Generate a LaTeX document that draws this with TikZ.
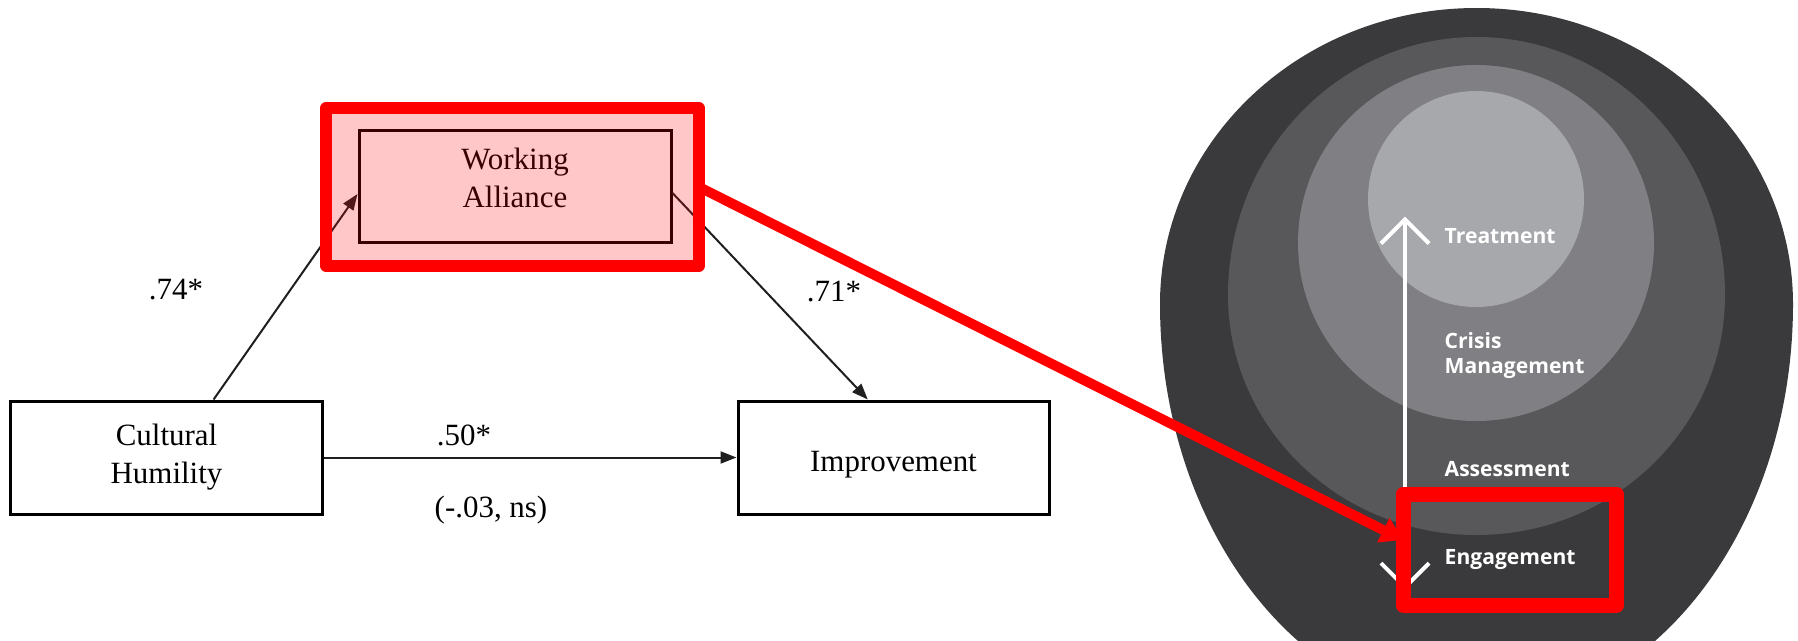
\documentclass[tikz,border=0pt]{standalone}
\usepackage{fontspec}
\setmainfont{Liberation Serif}
\newfontfamily\ringfont{Open Sans}
\usetikzlibrary{arrows.meta}
\usetikzlibrary{calc}

\definecolor{ring_a}{HTML}{3A3A3C}
\definecolor{ring_b}{HTML}{58585A}
\definecolor{ring_c}{HTML}{808084}
\definecolor{ring_d}{HTML}{A7A8AB}

\begin{document}
\begin{tikzpicture}[
        box_style/.style={rectangle,draw=black,line width=0.03cm,inner sep=0pt,minimum width=3.11cm,minimum height=1.13cm,align=center,font=\fontsize{8.8}{10.8}\selectfont},
        coef_style/.style={inner sep=0pt,font=\fontsize{8.8}{10.5}\selectfont},
        edge_style/.style={draw=black!88, line width=0.02cm, -{Triangle[length=0.16cm,width=0.12cm]}},
        mark_style/.style={rectangle,draw=red,line width=0.12cm,line join=round,inner sep=0pt,outer sep=0pt},
        ring_text_style/.style={text=white,inner sep=0pt,align=left,font=\ringfont\bfseries\fontsize{6}{7.1}\selectfont}]

        \path [use as bounding box, fill=white] (0,0) rectangle (17.98,6.40);

        \fill [ring_a] (11.60,3.36) arc [start angle=180, end angle=0, x radius=3.165, y radius=2.96]
                                    arc [start angle=0, end angle=-180, x radius=3.165, y radius=4.08] -- cycle;
        \fill [ring_b] (12.28,3.45) arc [start angle=180, end angle=0, x radius=2.485, y radius=2.58]
                                    arc [start angle=0, end angle=-180, x radius=2.485, y radius=2.40] -- cycle;
        \fill [ring_c] (14.76,3.97) circle (1.78);
        \fill [ring_d] (14.76,4.41) circle (1.08);

        \coordinate (path_top) at (14.05,4.233);
        \coordinate (path_bot) at (14.05,0.50);
        \draw [white, line width=0.04cm, {Straight Barb[length=0.24cm,width=0.48cm]}-{Straight Barb[length=0.24cm,width=0.48cm]}] (path_bot) -- (path_top);

        \node [ring_text_style, anchor=base west] (treat) at (14.44,3.967) {Treatment};
        \node [ring_text_style, anchor=base west] (crisis) at (14.44,2.67) {Crisis\\Management};
        \node [ring_text_style, anchor=base west] (assess) at (14.44,1.633) {Assessment};
        \node [ring_text_style, anchor=base west] (engage) at (14.44,0.76) {Engagement};

        \node [box_style] (ch) at (1.665,1.825) {Cultural\\Humility\rule[-0.07cm]{0pt}{0pt}};
        \node [box_style, text height=0.34cm, text depth=0.07cm] (imp) at (8.935,1.825) {Improvement};
        \node [box_style, minimum width=3.12cm, minimum height=1.12cm] (wa) at (5.15,4.54) {Working\\Alliance\rule[-0.16cm]{0pt}{0pt}};

        \draw [edge_style] ($(ch.north west)!0.65!(ch.north east)$) -- ([yshift=-0.08cm]wa.west);
        \draw [edge_style] ([yshift=-0.07cm]wa.east) -- ($(imp.north west)!0.418!(imp.north east)$);
        \draw [edge_style] (ch.east) -- (imp.west);

        \node [coef_style] (c74) at (1.76,3.50) {.74*};
        \node [coef_style] (c71) at (8.34,3.48) {.71*};
        \node [coef_style] (c50) at (4.64,2.05) {.50*};
        \node [coef_style] (c03) at (4.91,1.30) {(-.03, ns)};

        \node [mark_style, fill=red, fill opacity=0.22, minimum width=3.73cm, minimum height=1.574cm] (wa_mark) at (5.125,4.53) {};
        \node [mark_style, line width=0.15cm, minimum width=2.135cm, minimum height=1.11cm] (eng_mark) at (15.0975,0.905) {};
        \draw [draw=red, line width=0.10cm, -{Triangle[length=0.22cm,width=0.26cm]}] (wa_mark.east) -- ([yshift=0.095cm]eng_mark.west);

\end{tikzpicture}
\end{document}
